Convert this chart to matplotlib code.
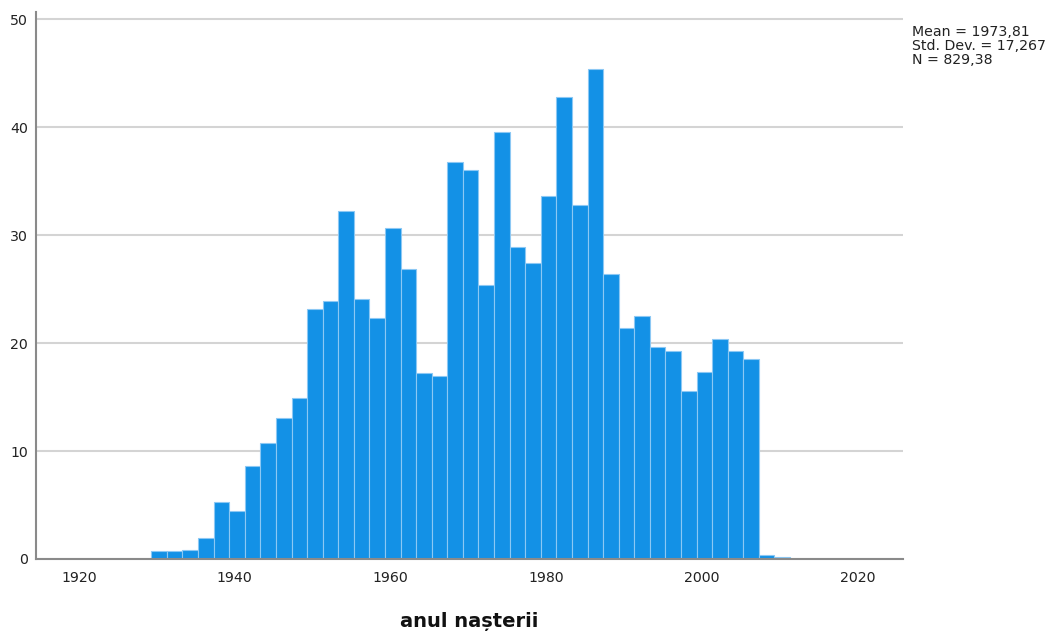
import matplotlib
matplotlib.use("Agg")
import matplotlib.pyplot as plt
import numpy as np

# histogram of birth years (weighted counts)
counts = [0.7, 0.78, 0.85, 1.9, 5.25, 4.4, 8.65, 10.75, 13.1, 14.95,
          23.15, 23.85, 32.2, 24.05, 22.3, 30.65, 26.9, 17.2, 16.95, 36.8,
          36.05, 25.4, 39.5, 28.85, 27.45, 33.6, 42.8, 32.75, 45.35, 26.35,
          21.35, 22.5, 19.6, 19.3, 15.6, 17.35, 20.4, 19.25, 18.55, 0.4, 0.18]
first_edge = 1929.3
bin_width = 2.0
x_ticks = [1920, 1940, 1960, 1980, 2000, 2020]
y_ticks = [0, 10, 20, 30, 40, 50]
stats_text = "Mean = 1973,81\nStd. Dev. = 17,267\nN = 829,38"
x_label = "anul nașterii"

plt.rcParams['font.family'] = ['DejaVu Sans']

fig = plt.figure(figsize=(10.48, 6.35), dpi=100)
ax = fig.add_axes([0.0344, 0.1197, 0.8272, 0.8613])

lefts = first_edge + bin_width * np.arange(len(counts))
ax.bar(lefts, counts, width=bin_width, align='edge', color='#1391E6',
       edgecolor='#8CC8F4', linewidth=0.8, zorder=3)

ax.set_xlim(1914.5, 2025.8)
ax.set_ylim(0, 50.65)
ax.set_xticks(x_ticks)
ax.set_yticks(y_ticks)
ax.tick_params(length=0, labelsize=10.2, colors='#222222')
ax.tick_params(axis='x', pad=9)
ax.tick_params(axis='y', pad=6)

ax.grid(axis='y', color='#D4D4D4', linewidth=1.5, zorder=0)
ax.set_axisbelow(True)
for s in ['top', 'right']:
    ax.spines[s].set_visible(False)
for s in ['left', 'bottom']:
    ax.spines[s].set_color('#8A8A8A')
    ax.spines[s].set_linewidth(1.5)
    ax.spines[s].set_zorder(4)

ax.set_xlabel(x_label, fontsize=14, fontweight='bold', color='#111111',
              va='center')
ax.xaxis.set_label_coords(0.4994, -0.115)

fig.text(912 / 1048, 1 - 25 / 635, stats_text, fontsize=10.2,
         va='top', ha='left', linespacing=0.98, color='#222222')

fig.savefig('out.png', dpi=100)
